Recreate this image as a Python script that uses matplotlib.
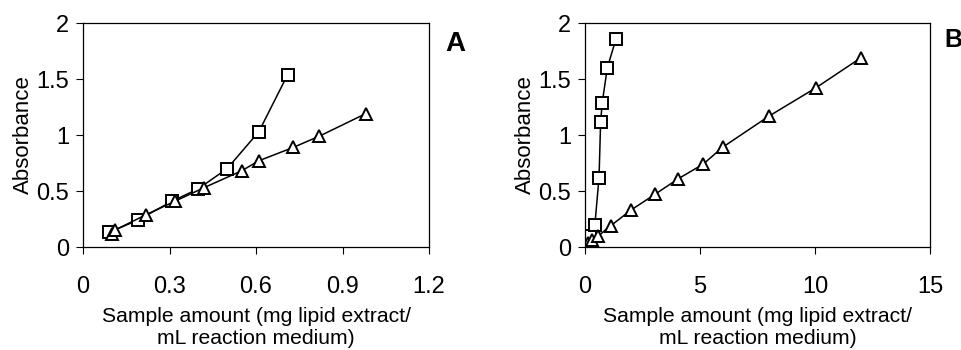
import matplotlib
matplotlib.use("Agg")
import matplotlib.pyplot as plt

plt.rcParams["font.family"] = ["Liberation Sans", "DejaVu Sans"]

# ── Data ──────────────────────────────────────────────────────────────────────
# Panel A
a_sq_x = [0.09, 0.19, 0.31, 0.40, 0.50, 0.61, 0.71]
a_sq_y = [0.13, 0.24, 0.41, 0.52, 0.70, 1.03, 1.54]
a_tr_x = [0.10, 0.11, 0.22, 0.32, 0.42, 0.55, 0.61, 0.73, 0.82, 0.98]
a_tr_y = [0.12, 0.15, 0.29, 0.41, 0.53, 0.68, 0.77, 0.89, 0.99, 1.19]

# Panel B
b_sq_x = [0.10, 0.22, 0.43, 0.61, 0.68, 0.75, 0.97, 1.35]
b_sq_y = [0.05, 0.10, 0.20, 0.62, 1.12, 1.29, 1.60, 1.86]
b_tr_x = [0.14, 0.29, 0.58, 1.12, 2.0, 3.04, 4.06, 5.14, 5.98, 8.01, 10.03, 12.0]
b_tr_y = [0.04, 0.06, 0.10, 0.19, 0.33, 0.47, 0.61, 0.74, 0.89, 1.17, 1.42, 1.69]

a_xticks = [0, 0.3, 0.6, 0.9, 1.2]
a_xlabels = ["0", "0.3", "0.6", "0.9", "1.2"]
b_xticks = [0, 5, 10, 15]
b_xlabels = ["0", "5", "10", "15"]
yticks = [0, 0.5, 1, 1.5, 2]
ylabels = ["0", "0.5", "1", "1.5", "2"]

XLABEL = "Sample amount (mg lipid extract/\nmL reaction medium)"

fig = plt.figure(figsize=(9.61, 3.5), dpi=100)
fig.patch.set_facecolor("white")

ax_a = fig.add_axes([83 / 961, 103 / 350, 346 / 961, 224 / 350])
ax_b = fig.add_axes([585 / 961, 103 / 350, 345 / 961, 224 / 350])

mk = dict(color="black", lw=1.1, mfc="white", mec="black", mew=1.4, ms=8)


def style(ax, xticks, xlabels, xmax):
    ax.set_xlim(0, xmax)
    ax.set_ylim(0, 2)
    ax.set_xticks(xticks)
    ax.set_xticklabels(xlabels)
    ax.set_yticks(yticks)
    ax.set_yticklabels(ylabels)
    ax.tick_params(axis="x", direction="out", length=5, width=0.8, pad=16,
                   labelsize=17)
    ax.tick_params(axis="y", direction="out", length=5, width=0.8, pad=5,
                   labelsize=17)
    for s in ax.spines.values():
        s.set_linewidth(0.9)
    ax.set_xlabel(XLABEL, fontsize=15.2, labelpad=6, linespacing=1.2)
    ax.set_ylabel("Absorbance", fontsize=16, labelpad=2)


# Panel A
ax_a.plot(a_sq_x, a_sq_y, marker="s", **mk)
ax_a.plot(a_tr_x, a_tr_y, marker="^", **mk)
style(ax_a, a_xticks, a_xlabels, 1.2)
ax_a.text(455 / 961, 1 - 44 / 350, "A", transform=fig.transFigure,
          fontsize=20, fontweight="bold", ha="center", va="center")

# Panel B
ax_b.plot(b_sq_x, b_sq_y, marker="s", **mk)
ax_b.plot(b_tr_x, b_tr_y, marker="^", **mk)
style(ax_b, b_xticks, b_xlabels, 15)
ax_b.text(953 / 961, 1 - 40 / 350, "B", transform=fig.transFigure,
          fontsize=18, fontweight="bold", ha="center", va="center")

fig.savefig("out.png", dpi=100, facecolor="white")
